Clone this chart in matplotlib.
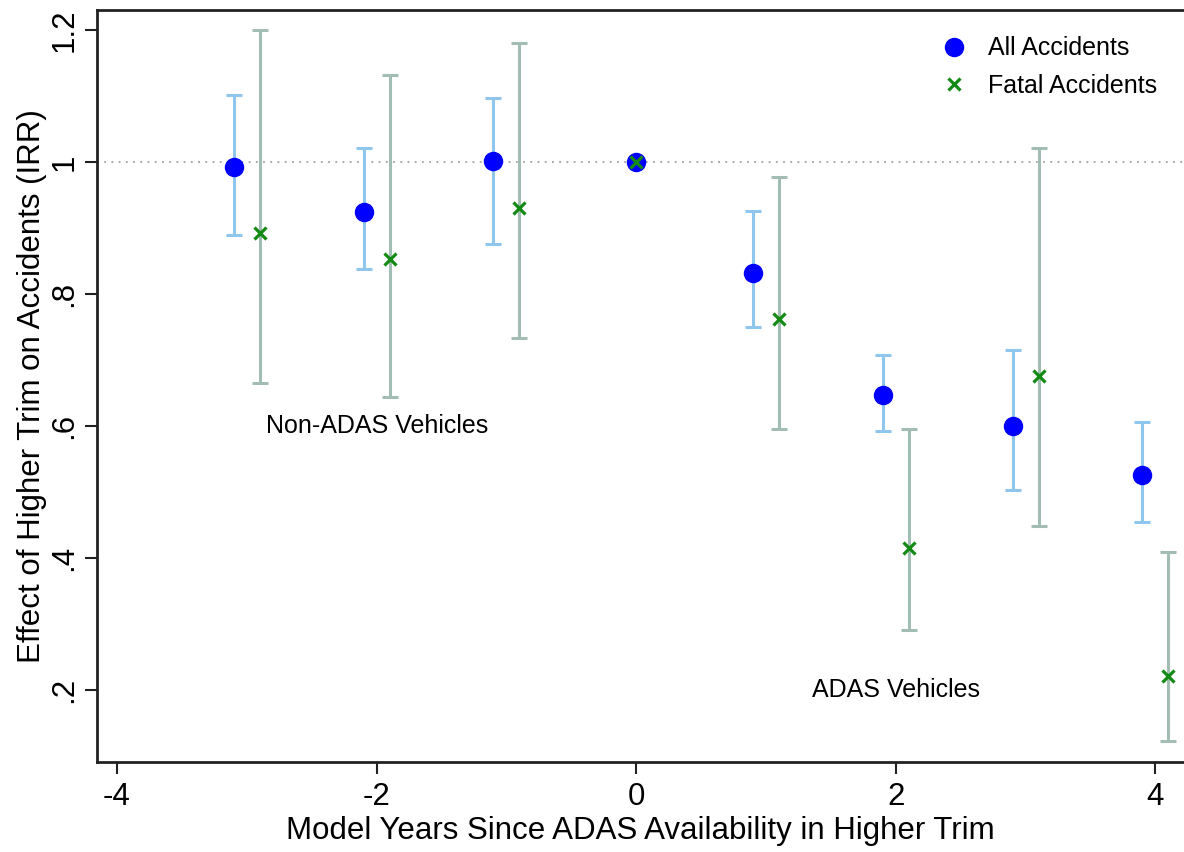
import matplotlib
matplotlib.use("Agg")
import matplotlib.pyplot as plt

############################################
# DATA
############################################
all_x = [-3.1, -2.1, -1.1, 0.0, 0.9, 1.9, 2.9, 3.9]
all_irr = [0.992, 0.924, 1.002, 1.0, 0.832, 0.647, 0.600, 0.526]
all_lo = [0.889, 0.838, 0.876, 1.0, 0.750, 0.592, 0.503, 0.455]
all_hi = [1.102, 1.021, 1.097, 1.0, 0.926, 0.708, 0.715, 0.606]

fatal_x = [-2.9, -1.9, -0.9, 0.0, 1.1, 2.1, 3.1, 4.1]
fatal_irr = [0.892, 0.853, 0.930, 1.0, 0.762, 0.415, 0.676, 0.221]
fatal_lo = [0.665, 0.644, 0.733, 1.0, 0.595, 0.291, 0.448, 0.123]
fatal_hi = [1.200, 1.132, 1.180, 1.0, 0.977, 0.595, 1.021, 0.409]

x_ticks = [-4, -2, 0, 2, 4]
y_ticks = [0.2, 0.4, 0.6, 0.8, 1.0, 1.2]
y_ticklabels = [".2", ".4", ".6", ".8", "1", "1.2"]

############################################
# PLOT
############################################
plt.rcParams['font.family'] = ['Liberation Sans', 'DejaVu Sans']

fig = plt.figure(figsize=(11.84, 8.52), dpi=100)
ax = fig.add_axes([0.0819, 0.1056, 0.918, 0.8826])

ax.axhline(1.0, color="#a0a0a0", linestyle=(0, (1, 3)), linewidth=1.3, zorder=1)

# confidence intervals
a_err = [[y - lo for y, lo in zip(all_irr, all_lo)],
         [hi - y for y, hi in zip(all_irr, all_hi)]]
f_err = [[y - lo for y, lo in zip(fatal_irr, fatal_lo)],
         [hi - y for y, hi in zip(fatal_irr, fatal_hi)]]

ax.errorbar(all_x, all_irr, yerr=a_err, fmt="none", ecolor="#8fc6ee",
            elinewidth=2.2, capsize=6, capthick=2.2, zorder=2)
ax.errorbar(fatal_x, fatal_irr, yerr=f_err, fmt="none", ecolor="#a2bdb4",
            elinewidth=2.2, capsize=6, capthick=2.2, zorder=2)

ax.plot(all_x, all_irr, "o", color="#0000ff", markersize=13, linestyle="none",
        label="All Accidents", zorder=3)
ax.plot(fatal_x, fatal_irr, "x", color="#138a13", markersize=8, markeredgewidth=2.3,
        linestyle="none", label="Fatal Accidents", zorder=4)

ax.text(-2.85, 0.6, "Non-ADAS Vehicles", fontsize=18, va="center", ha="left")
ax.text(1.355, 0.2, "ADAS Vehicles", fontsize=18, va="center", ha="left")

ax.set_xlim(-4.154, 4.22)
ax.set_ylim(0.0909, 1.2303)
ax.set_xticks(x_ticks)
ax.set_xticklabels([str(t) for t in x_ticks])
ax.set_yticks(y_ticks)
ax.set_yticklabels(y_ticklabels, rotation=90, va="center")

ax.tick_params(axis="both", labelsize=22.5, length=8.5, width=1.5, direction="out",
               color="#222222")
ax.tick_params(axis="x", pad=6)
ax.tick_params(axis="y", pad=4)
for s in ["left", "bottom", "top"]:
    ax.spines[s].set_linewidth(2)
    ax.spines[s].set_color("#222222")
ax.spines["right"].set_visible(False)

ax.set_xlabel("Model Years Since ADAS Availability in Higher Trim", fontsize=22.5, labelpad=3)
ax.set_ylabel("Effect of Higher Trim on Accidents (IRR)", fontsize=22.5, labelpad=2)

ax.legend(loc="upper right", bbox_to_anchor=(0.996, 0.995), frameon=False, fontsize=18,
          handletextpad=0.35, labelspacing=0.55, markerscale=1.0)

fig.savefig("out.png", dpi=100)
